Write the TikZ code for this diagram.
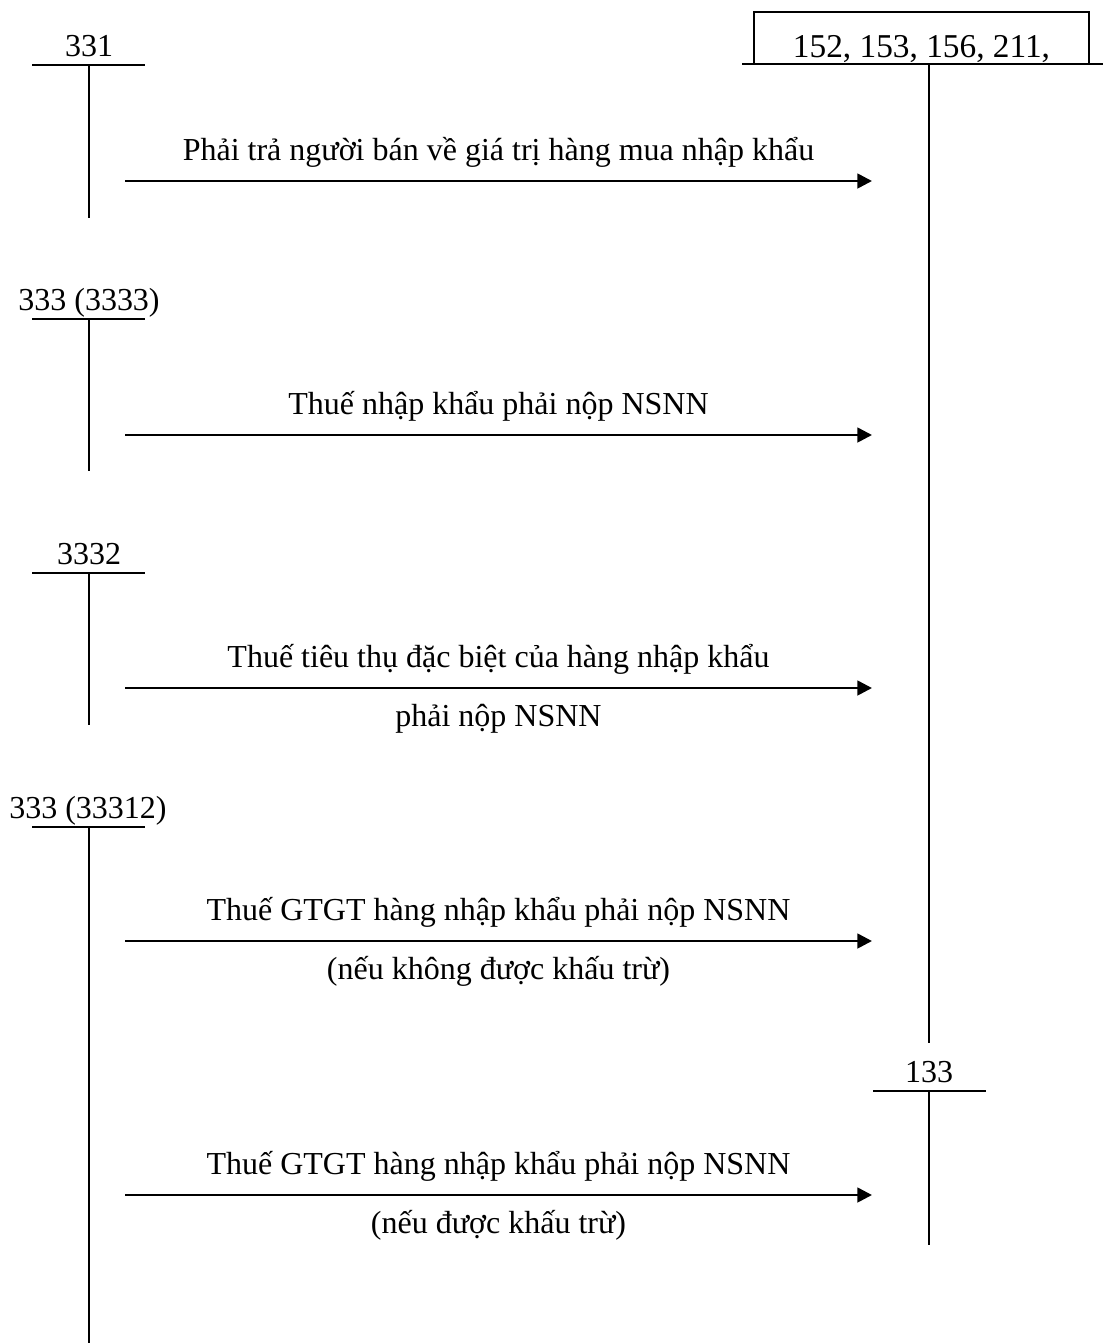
\documentclass[tikz,border=0pt]{standalone}
\usepackage{fontspec}
\setmainfont{Liberation Serif}
\usetikzlibrary{arrows.meta, positioning}

\begin{document}
\begin{tikzpicture}[
    x=0.75pt, y=-0.75pt,
    every node/.style={font=\fontsize{24}{28}\selectfont, inner sep=0pt},
    tline/.style={line width=1.5pt},
    arrow/.style={-{Triangle[length=11pt, width=11pt]}, line width=2pt},
    txtup/.style={midway, anchor=base, yshift=15.75pt},
    txtdown/.style={midway, anchor=base, yshift=-29pt}
]
    \useasboundingbox (0,0) rectangle (1103,1343);

    % ---- 152, 153, 156, 211 ----
    \node[draw, line width=1.5pt, minimum width=251pt, minimum height=39pt,
          text height=28.5pt, text depth=0pt, font=\fontsize{25}{29}\selectfont]
          (acc152) at (921.5,38) {152, 153, 156, 211,};
    \coordinate (acc152l) at (742,64);
    \coordinate (acc152r) at (1103,64);
    \coordinate (acc152t) at (929,64);
    \coordinate (acc152b) at (929,1043);
    \draw[tline] (acc152l) -- (acc152r);
    \draw[tline] (acc152t) -- (acc152b);

    % ---- 331 ----
    \node[anchor=base] (acc331) at (89,56) {331};
    \coordinate (acc331l) at (32,65);
    \coordinate (acc331r) at (145,65);
    \coordinate (acc331t) at (89,65);
    \coordinate (acc331b) at (89,218);
    \draw[tline] (acc331l) -- (acc331r);
    \draw[tline] (acc331t) -- (acc331b);

    % ---- 333 (3333) ----
    \node[anchor=base] (acc3333) at (89,310) {333 (3333)};
    \coordinate (acc3333l) at (32,319);
    \coordinate (acc3333r) at (145,319);
    \coordinate (acc3333t) at (89,319);
    \coordinate (acc3333b) at (89,471);
    \draw[tline] (acc3333l) -- (acc3333r);
    \draw[tline] (acc3333t) -- (acc3333b);

    % ---- 3332 ----
    \node[anchor=base] (acc3332) at (89,564) {3332};
    \coordinate (acc3332l) at (32,573);
    \coordinate (acc3332r) at (145,573);
    \coordinate (acc3332t) at (89,573);
    \coordinate (acc3332b) at (89,725);
    \draw[tline] (acc3332l) -- (acc3332r);
    \draw[tline] (acc3332t) -- (acc3332b);

    % ---- 333 (33312) ----
    \node[anchor=base] (acc33312) at (88,818) {333 (33312)};
    \coordinate (acc33312l) at (32,827);
    \coordinate (acc33312r) at (145,827);
    \coordinate (acc33312t) at (89,827);
    \coordinate (acc33312b) at (89,1343);
    \draw[tline] (acc33312l) -- (acc33312r);
    \draw[tline] (acc33312t) -- (acc33312b);

    % ---- 133 ----
    \node[anchor=base] (acc133) at (929,1082) {133};
    \coordinate (acc133l) at (873,1091);
    \coordinate (acc133r) at (986,1091);
    \coordinate (acc133t) at (929,1091);
    \coordinate (acc133b) at (929,1245);
    \draw[tline] (acc133l) -- (acc133r);
    \draw[tline] (acc133t) -- (acc133b);

    % ---- Entries ----
    \coordinate (s1) at (125,181);  \coordinate (e1) at (872,181);
    \coordinate (s2) at (125,435);  \coordinate (e2) at (872,435);
    \coordinate (s3) at (125,688);  \coordinate (e3) at (872,688);
    \coordinate (s4) at (125,941);  \coordinate (e4) at (872,941);
    \coordinate (s5) at (125,1195); \coordinate (e5) at (872,1195);

    \draw[arrow] (s1) -- (e1)
        node[txtup] (t1) {Phải trả người bán về giá trị hàng mua nhập khẩu};
    \draw[arrow] (s2) -- (e2)
        node[txtup] (t2) {Thuế nhập khẩu phải nộp NSNN};
    \draw[arrow] (s3) -- (e3)
        node[txtup] (t3a) {Thuế tiêu thụ đặc biệt của hàng nhập khẩu}
        node[txtdown] (t3b) {phải nộp NSNN};
    \draw[arrow] (s4) -- (e4)
        node[txtup] (t4a) {Thuế GTGT hàng nhập khẩu phải nộp NSNN}
        node[txtdown] (t4b) {(nếu không được khấu trừ)};
    \draw[arrow] (s5) -- (e5)
        node[txtup] (t5a) {Thuế GTGT hàng nhập khẩu phải nộp NSNN}
        node[txtdown] (t5b) {(nếu được khấu trừ)};

\end{tikzpicture}
\end{document}
